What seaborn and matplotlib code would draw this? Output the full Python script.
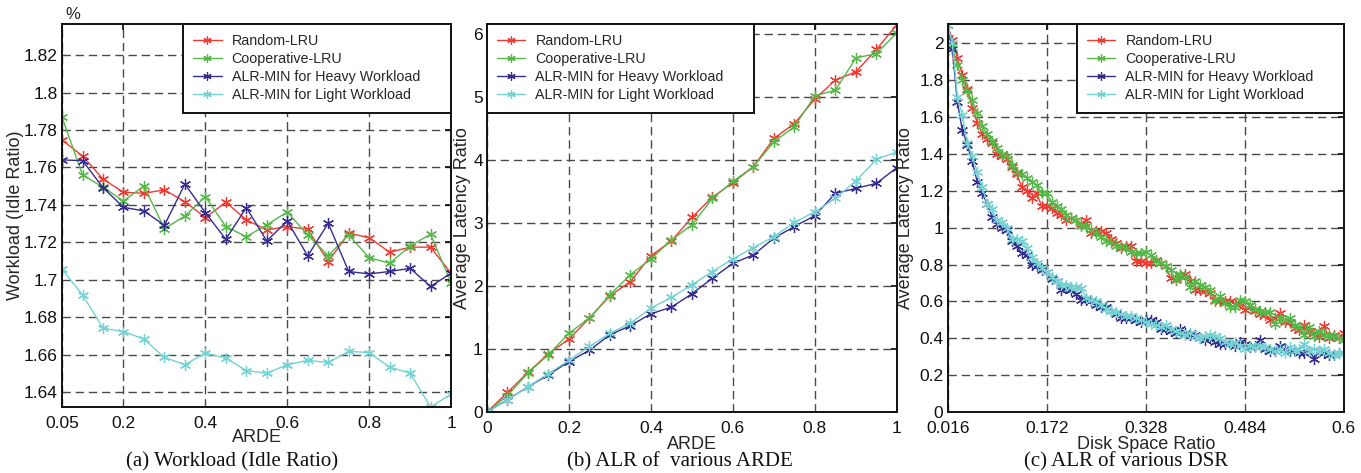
import numpy as np
import pandas as pd
import seaborn as sns
import matplotlib.pyplot as plt
from matplotlib.ticker import FuncFormatter

# -----------------------------------------------------------------------
# Data
# -----------------------------------------------------------------------
SERIES = ["Random-LRU", "Cooperative-LRU",
          "ALR-MIN for Heavy Workload", "ALR-MIN for Light Workload"]
COLORS = ["#f03a32", "#55b848", "#352c90", "#74d2d2"]

# (a) workload (idle ratio) vs ARDE
ARDE_A = [0.05, 0.10, 0.15, 0.20, 0.25, 0.30, 0.35, 0.40, 0.45, 0.50,
          0.55, 0.60, 0.65, 0.70, 0.75, 0.80, 0.85, 0.90, 0.95, 1.00]
IDLE_RANDOM = [1.7746, 1.7661, 1.7538, 1.7467, 1.7462, 1.7480, 1.7417, 1.7332, 1.7414, 1.7320,
               1.7266, 1.7284, 1.7270, 1.7097, 1.7248, 1.7225, 1.7147, 1.7174, 1.7174, 1.7035]
IDLE_COOP = [1.7867, 1.7560, 1.7494, 1.7421, 1.7501, 1.7273, 1.7340, 1.7444, 1.7284, 1.7230,
             1.7293, 1.7362, 1.7239, 1.7129, 1.7239, 1.7118, 1.7088, 1.7180, 1.7243, 1.6985]
IDLE_HEAVY = [1.7640, 1.7636, 1.7492, 1.7387, 1.7367, 1.7291, 1.7511, 1.7358, 1.7216, 1.7385,
              1.7207, 1.7314, 1.7127, 1.7302, 1.7044, 1.7031, 1.7044, 1.7061, 1.6964, 1.7035]
IDLE_LIGHT = [1.7056, 1.6919, 1.6741, 1.6723, 1.6683, 1.6585, 1.6546, 1.6608, 1.6581, 1.6515,
              1.6501, 1.6546, 1.6569, 1.6558, 1.6617, 1.6611, 1.6533, 1.6501, 1.6320, 1.6389]

# (b) average latency ratio vs ARDE
ARDE_B = [0.00, 0.05, 0.10, 0.15, 0.20, 0.25, 0.30, 0.35, 0.40, 0.45, 0.50,
          0.55, 0.60, 0.65, 0.70, 0.75, 0.80, 0.85, 0.90, 0.95, 1.00]
ALR_RANDOM = [0, 0.31, 0.63, 0.925, 1.157, 1.49, 1.845, 2.07, 2.48, 2.717, 3.09,
              3.41, 3.64, 3.895, 4.345, 4.58, 4.97, 5.27, 5.40, 5.756, 6.15]
ALR_COOP = [0, 0.26, 0.62, 0.91, 1.25, 1.49, 1.86, 2.18, 2.43, 2.73, 2.97,
            3.39, 3.66, 3.895, 4.29, 4.53, 5.02, 5.11, 5.62, 5.69, 6.02]
ALR_HEAVY = [0, 0.196, 0.40, 0.59, 0.80, 0.98, 1.226, 1.37, 1.56, 1.665, 1.876,
             2.125, 2.36, 2.495, 2.76, 2.944, 3.118, 3.47, 3.55, 3.63, 3.88]
ALR_LIGHT = [0, 0.196, 0.40, 0.61, 0.82, 1.04, 1.25, 1.41, 1.65, 1.82, 2.02,
             2.23, 2.43, 2.61, 2.785, 3.01, 3.18, 3.39, 3.67, 4.01, 4.13]

# (c) average latency ratio vs disk space ratio (steps of 1/128)
DSR = np.arange(2, 83) / 128
DSR_RANDOM = [2.10, 2.02, 1.92, 1.83, 1.75, 1.65, 1.57, 1.51, 1.48, 1.46,
              1.40, 1.39, 1.37, 1.33, 1.29, 1.22, 1.20, 1.16, 1.19, 1.115,
              1.12, 1.105, 1.08, 1.07, 1.04, 1.05, 1.04, 1.02, 1.04, 0.97,
              0.98, 0.98, 0.97, 0.94, 0.915, 0.89, 0.90, 0.90, 0.817, 0.817,
              0.81, 0.81, 0.826, 0.81, 0.79, 0.726, 0.717, 0.74, 0.75, 0.71,
              0.663, 0.663, 0.654, 0.645, 0.61, 0.60, 0.60, 0.60, 0.587, 0.59,
              0.555, 0.58, 0.546, 0.53, 0.527, 0.50, 0.51, 0.536, 0.486, 0.49,
              0.455, 0.446, 0.473, 0.437, 0.428, 0.406, 0.464, 0.40, 0.42, 0.40,
              0.428]
DSR_COOP = [2.10, 1.98, 1.88, 1.80, 1.74, 1.69, 1.62, 1.55, 1.51, 1.47,
            1.43, 1.40, 1.39, 1.34, 1.30, 1.29, 1.27, 1.25, 1.23, 1.19,
            1.19, 1.14, 1.12, 1.10, 1.07, 1.05, 1.04, 1.01, 1.01, 0.99,
            0.97, 0.95, 0.93, 0.92, 0.90, 0.90, 0.89, 0.87, 0.86, 0.86,
            0.87, 0.85, 0.82, 0.81, 0.79, 0.77, 0.72, 0.75, 0.73, 0.68,
            0.71, 0.69, 0.68, 0.66, 0.60, 0.63, 0.59, 0.57, 0.57, 0.61,
            0.60, 0.58, 0.56, 0.55, 0.54, 0.54, 0.48, 0.51, 0.50, 0.51,
            0.47, 0.46, 0.42, 0.46, 0.41, 0.44, 0.42, 0.42, 0.41, 0.40,
            0.39]
DSR_HEAVY = [2.10, 1.97, 1.68, 1.53, 1.45, 1.36, 1.25, 1.19, 1.13, 1.06,
             1.02, 1.00, 0.99, 0.93, 0.90, 0.86, 0.85, 0.80, 0.79, 0.77,
             0.76, 0.72, 0.71, 0.66, 0.67, 0.66, 0.64, 0.61, 0.61, 0.60,
             0.58, 0.57, 0.57, 0.55, 0.53, 0.51, 0.51, 0.51, 0.50, 0.49,
             0.50, 0.50, 0.49, 0.45, 0.45, 0.44, 0.43, 0.45, 0.43, 0.42,
             0.42, 0.40, 0.39, 0.40, 0.38, 0.37, 0.37, 0.37, 0.36, 0.38,
             0.37, 0.35, 0.36, 0.39, 0.34, 0.33, 0.33, 0.36, 0.34, 0.33,
             0.33, 0.32, 0.32, 0.33, 0.29, 0.33, 0.32, 0.31, 0.31, 0.32,
             0.32]
DSR_LIGHT = [2.10, 2.00, 1.71, 1.61, 1.46, 1.39, 1.30, 1.22, 1.13, 1.10,
             1.04, 1.03, 1.00, 0.94, 0.94, 0.93, 0.89, 0.84, 0.81, 0.78,
             0.76, 0.73, 0.71, 0.69, 0.69, 0.68, 0.68, 0.67, 0.62, 0.61,
             0.60, 0.58, 0.56, 0.55, 0.54, 0.53, 0.52, 0.52, 0.51, 0.50,
             0.49, 0.48, 0.47, 0.46, 0.47, 0.45, 0.44, 0.43, 0.42, 0.43,
             0.41, 0.40, 0.41, 0.42, 0.41, 0.40, 0.38, 0.37, 0.38, 0.36,
             0.34, 0.36, 0.35, 0.36, 0.35, 0.34, 0.33, 0.34, 0.32, 0.35,
             0.33, 0.34, 0.37, 0.33, 0.34, 0.33, 0.34, 0.32, 0.31, 0.32,
             0.32]

# tick positions / labels
A_XTICKS = [0.05, 0.2, 0.4, 0.6, 0.8, 1.0]
A_YTICKS = [1.64, 1.66, 1.68, 1.70, 1.72, 1.74, 1.76, 1.78, 1.80, 1.82]
B_XTICKS = [0, 0.2, 0.4, 0.6, 0.8, 1.0]
B_YTICKS = [0, 1, 2, 3, 4, 5, 6]
C_XTICKS = [0.016, 0.172, 0.328, 0.484, 0.64]
C_XLABELS = ["0.016", "0.172", "0.328", "0.484", "0.6"]
C_YTICKS = [0, 0.2, 0.4, 0.6, 0.8, 1.0, 1.2, 1.4, 1.6, 1.8, 2.0]

MARKER = (6, 2, 0)   # MATLAB-like asterisk


def draw_series(ax, x, ys):
    for name, y, color in zip(SERIES, ys, COLORS):
        df = pd.DataFrame({"x": x, "y": y})
        sns.lineplot(data=df, x="x", y="y", ax=ax, color=color, label=name,
                     marker=MARKER, markersize=8, markeredgewidth=0.9,
                     markeredgecolor=color, linewidth=1.0, sort=False)


def style_axes(ax, xlim, ylim, xticks, yticks, xlabels=None):
    ax.set_xlim(*xlim)
    ax.set_ylim(*ylim)
    ax.set_xticks(xticks)
    ax.set_yticks(yticks)
    fmt = FuncFormatter(lambda v, p: f"{v:g}")
    if xlabels is None:
        ax.xaxis.set_major_formatter(fmt)
    else:
        ax.set_xticklabels(xlabels)
    ax.yaxis.set_major_formatter(fmt)
    ax.grid(True, color="#4a4a4a", linestyle=(0, (6, 3.5)), linewidth=1.0)
    ax.tick_params(direction="in", length=4, top=True, right=True,
                   labelsize=12.5, colors="#111111")
    ax.tick_params(axis="x", pad=6.5)
    ax.tick_params(axis="y", pad=3)
    for s in ax.spines.values():
        s.set_color("#111111")
        s.set_linewidth(1.4)
    ax.set_axisbelow(True)


def style_legend(ax, box):
    # MATLAB style box: fixed width, text left aligned with spare room right
    leg = ax.legend(loc="upper left", bbox_to_anchor=box, mode="expand",
                    borderaxespad=0, fontsize=10.3, fancybox=False,
                    framealpha=1, edgecolor="#111111", handlelength=1.96,
                    handletextpad=0.7, labelspacing=0.28, borderpad=0.73,
                    markerscale=0.75)
    leg.get_frame().set_linewidth(1.4)


sns.set_theme(style="white")
plt.rcParams["font.family"] = ["Liberation Sans", "DejaVu Sans"]

fig = plt.figure(figsize=(13.61, 4.73), dpi=100)
ax_a = fig.add_axes([0.0456, 0.1395, 0.2858, 0.8097])
ax_b = fig.add_axes([0.3578, 0.1290, 0.3012, 0.8203])
ax_c = fig.add_axes([0.6963, 0.1290, 0.2910, 0.8203])

# (a)
draw_series(ax_a, ARDE_A, [IDLE_RANDOM, IDLE_COOP, IDLE_HEAVY, IDLE_LIGHT])
style_axes(ax_a, (0.05, 1.0), (1.632, 1.8366), A_XTICKS, A_YTICKS)
style_legend(ax_a, (0.311, 0.768, 0.689, 0.232))
ax_a.set_xlabel("ARDE", fontsize=13, labelpad=-1.5)
ax_a.set_ylabel("Workload (Idle Ratio)", fontsize=13)
ax_a.yaxis.set_label_coords(-0.097, 0.5)
ax_a.text(0.008, 1.006, "%", transform=ax_a.transAxes, fontsize=12,
          ha="left", va="bottom")

# (b)
draw_series(ax_b, ARDE_B, [ALR_RANDOM, ALR_COOP, ALR_HEAVY, ALR_LIGHT])
style_axes(ax_b, (0, 1.0), (0, 6.16), B_XTICKS, B_YTICKS)
style_legend(ax_b, (0.0, 0.77, 0.651, 0.23))
ax_b.set_xlabel("ARDE", fontsize=13, labelpad=0)
ax_b.set_ylabel("Average Latency Ratio", fontsize=13)
ax_b.yaxis.set_label_coords(-0.038, 0.5)

# (c)
draw_series(ax_c, DSR, [DSR_RANDOM, DSR_COOP, DSR_HEAVY, DSR_LIGHT])
style_axes(ax_c, (0.016, 0.64), (0, 2.105), C_XTICKS, C_YTICKS, C_XLABELS)
style_legend(ax_c, (0.3265, 0.77, 0.6735, 0.23))
ax_c.set_xlabel("Disk Space Ratio", fontsize=13, labelpad=0)
ax_c.set_ylabel("Average Latency Ratio", fontsize=13)
ax_c.yaxis.set_label_coords(-0.085, 0.5)

# captions
for xc, txt in [(232, "(a) Workload (Idle Ratio)"),
                (680, "(b) ALR of  various ARDE"),
                (1126, "(c) ALR of various DSR")]:
    fig.text(xc / 1361, 1 - 462 / 473, txt, ha="center", va="center",
             fontsize=15, family=["Liberation Serif", "DejaVu Serif"],
             color="#111111")

fig.savefig("out.png", dpi=100)
